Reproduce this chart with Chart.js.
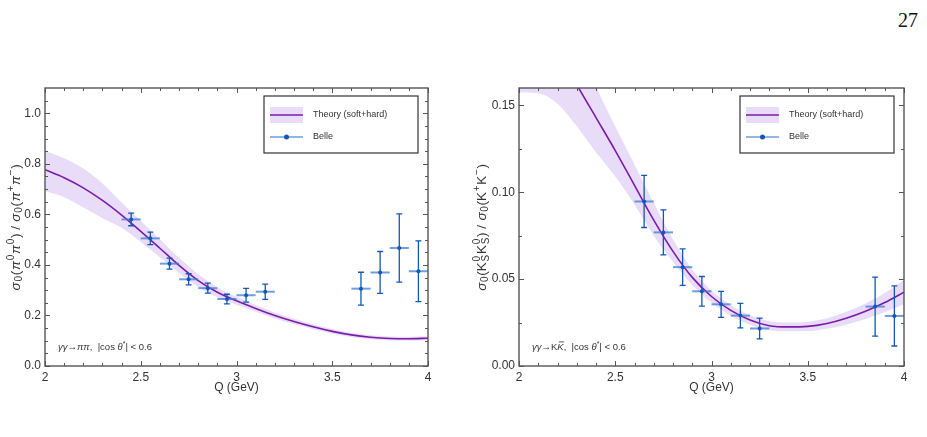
<!DOCTYPE html>
<html>
<head>
<meta charset="utf-8">
<script src="https://cdn.jsdelivr.net/npm/chart.js@4.4.0/dist/chart.umd.min.js"></script>
<style>
    body { margin: 0; background: #fff; width: 927px; height: 437px; position: relative; overflow: hidden; }
    canvas { position: absolute; top: 0; }
    #pipiChart { left: 0; }
    #kkChart { left: 463px; }
    .page-no { position: absolute; right: 9px; top: 9px; font: 20px 'Liberation Serif', 'DejaVu Serif', serif; color: #111; }
</style>
</head>
<body>
<div class="page-no">27</div>
<canvas id="pipiChart" width="463" height="437"></canvas>
<canvas id="kkChart" width="464" height="437"></canvas>
<script>
// ============================================
// DATA
// ============================================

const qGrid = [2.0, 2.1, 2.2, 2.3, 2.4, 2.5, 2.6, 2.7, 2.8, 2.9, 3.0, 3.1, 3.2, 3.3, 3.4, 3.5, 3.6, 3.7, 3.8, 3.9, 4.0];

// pi0 pi0 / pi+ pi-
const pipiTheory = [0.777, 0.745, 0.705, 0.655, 0.597, 0.533, 0.466, 0.398, 0.338, 0.292, 0.258, 0.228, 0.200, 0.176, 0.155, 0.137, 0.123, 0.114, 0.109, 0.108, 0.110];
const pipiUpper  = [0.851, 0.822, 0.781, 0.722, 0.647, 0.575, 0.502, 0.428, 0.363, 0.312, 0.274, 0.241, 0.212, 0.187, 0.165, 0.146, 0.131, 0.122, 0.117, 0.116, 0.118];
const pipiLower  = [0.692, 0.668, 0.628, 0.585, 0.547, 0.491, 0.430, 0.368, 0.313, 0.272, 0.242, 0.215, 0.188, 0.165, 0.145, 0.128, 0.115, 0.106, 0.101, 0.100, 0.102];
const pipiQ      = [2.45, 2.55, 2.65, 2.75, 2.85, 2.95, 3.05, 3.15, 3.65, 3.75, 3.85, 3.95];
const pipiBelle  = [0.580, 0.505, 0.405, 0.343, 0.308, 0.265, 0.280, 0.294, 0.306, 0.370, 0.467, 0.375];
const pipiErr    = [0.025, 0.025, 0.022, 0.022, 0.020, 0.019, 0.027, 0.030, 0.065, 0.083, 0.135, 0.120];

// KS KS / K+ K-
const kkTheory = [0.225, 0.204, 0.183, 0.162, 0.143, 0.124, 0.104, 0.084, 0.066, 0.051, 0.040, 0.032, 0.0265, 0.0232, 0.0225, 0.0228, 0.0245, 0.0275, 0.0315, 0.0365, 0.0425];
const kkUpper  = [0.270, 0.245, 0.220, 0.190, 0.161, 0.138, 0.116, 0.094, 0.073, 0.0555, 0.0435, 0.035, 0.0293, 0.0258, 0.025, 0.0255, 0.0275, 0.0312, 0.036, 0.042, 0.0495];
const kkLower  = [0.1575, 0.157, 0.151, 0.138, 0.123, 0.109, 0.093, 0.075, 0.060, 0.0465, 0.0365, 0.029, 0.0237, 0.0206, 0.020, 0.0201, 0.0215, 0.0238, 0.027, 0.031, 0.0355];
const kkQ      = [2.65, 2.75, 2.85, 2.95, 3.05, 3.15, 3.25, 3.85, 3.95];
const kkBelle  = [0.0947, 0.0769, 0.0569, 0.0430, 0.0355, 0.0290, 0.0216, 0.0342, 0.0288];
const kkErr    = [0.015, 0.013, 0.0105, 0.0085, 0.0075, 0.007, 0.006, 0.017, 0.0173];

const binHalf = 0.05;

// ticks
const xMajor = [2, 2.5, 3, 3.5, 4];
const xMinor = [2.1, 2.2, 2.3, 2.4, 2.6, 2.7, 2.8, 2.9, 3.1, 3.2, 3.3, 3.4, 3.6, 3.7, 3.8, 3.9];
const pipiYMajor = [0, 0.2, 0.4, 0.6, 0.8, 1.0];
const pipiYMinor = [0.05, 0.1, 0.15, 0.25, 0.3, 0.35, 0.45, 0.5, 0.55, 0.65, 0.7, 0.75, 0.85, 0.9, 0.95, 1.05];
const kkYMajor = [0, 0.05, 0.10, 0.15];
const kkYMinor = [0.025, 0.075, 0.125];

// ============================================
// STYLE
// ============================================

const PURPLE = 'rgb(122, 28, 168)';
const BAND = 'rgb(232, 220, 248)';
const BLUE = '#1456b8';
const BLUE_LIGHT = 'rgba(60, 125, 210, 0.75)';
const FRAME = '#555';
const TEXT = '#333';
const FAM = "'Liberation Sans', Arial, sans-serif";

// rich text: [text, style] -> n normal, i italic, p sup, b sub, o italic+overline, s stacked (sup, sub)
function fontFor(st, size) {
    if (st === 'i' || st === 'o') return `italic ${size}px ${FAM}`;
    if (st === 'p' || st === 'b' || st === 's') return `${Math.round(size * 0.72)}px ${FAM}`;
    return `${size}px ${FAM}`;
}

function partWidth(ctx, p, size, gap) {
    ctx.font = fontFor(p[1], size);
    let w = ctx.measureText(p[0]).width;
    if (p[1] === 's') w = Math.max(w, ctx.measureText(p[2]).width);
    return w + (gap || 0);
}

function richWidth(ctx, parts, size, gap) {
    return parts.reduce((s, p) => s + partWidth(ctx, p, size, gap), 0);
}

function drawRich(ctx, parts, x, y, size, gap) {
    ctx.textBaseline = 'alphabetic';
    ctx.textAlign = 'left';
    let cx = x;
    parts.forEach(p => {
        const w = partWidth(ctx, p, size, gap);
        ctx.font = fontFor(p[1], size);
        if (p[1] === 'p') ctx.fillText(p[0], cx, y - size * 0.42);
        else if (p[1] === 'b') ctx.fillText(p[0], cx, y + size * 0.22);
        else if (p[1] === 's') {
            ctx.fillText(p[0], cx, y - size * 0.42);
            ctx.fillText(p[2], cx, y + size * 0.25);
        } else {
            ctx.fillText(p[0], cx, y);
            if (p[1] === 'o') {
                ctx.save();
                ctx.strokeStyle = ctx.fillStyle;
                ctx.lineWidth = 0.8;
                ctx.beginPath();
                ctx.moveTo(cx + 1.5, y - size * 0.85);
                ctx.lineTo(cx + w - (gap || 0) + 0.5, y - size * 0.85);
                ctx.stroke();
                ctx.restore();
            }
        }
        cx += w;
    });
}

function drawErrorBars(chart, o) {
    const { ctx, chartArea: a, scales: { x, y } } = chart;
    ctx.save();
    ctx.beginPath();
    ctx.rect(a.left, a.top, a.width, a.height);
    ctx.clip();
    o.q.forEach((q, i) => {
        const px = x.getPixelForValue(q);
        const py = y.getPixelForValue(o.v[i]);
        const yt = y.getPixelForValue(o.v[i] + o.e[i]);
        const yb = y.getPixelForValue(o.v[i] - o.e[i]);
        ctx.strokeStyle = BLUE_LIGHT;
        ctx.lineWidth = 2;
        ctx.beginPath();
        ctx.moveTo(x.getPixelForValue(q - binHalf), py);
        ctx.lineTo(x.getPixelForValue(q + binHalf), py);
        ctx.stroke();
        ctx.strokeStyle = BLUE;
        ctx.lineWidth = 1.3;
        ctx.beginPath();
        ctx.moveTo(px, yt); ctx.lineTo(px, yb);
        ctx.moveTo(px - 3, yt); ctx.lineTo(px + 3, yt);
        ctx.moveTo(px - 3, yb); ctx.lineTo(px + 3, yb);
        ctx.stroke();
    });
    ctx.restore();
}

function drawFrame(chart, o) {
    const { ctx, chartArea: a, scales: { x, y } } = chart;
    ctx.save();
    ctx.strokeStyle = FRAME;
    ctx.lineWidth = 1;
    ctx.beginPath();
    const xt = (vals, len) => vals.forEach(v => {
        const p = Math.round(x.getPixelForValue(v)) + 0.5;
        ctx.moveTo(p, a.bottom); ctx.lineTo(p, a.bottom - len);
        ctx.moveTo(p, a.top); ctx.lineTo(p, a.top + len);
    });
    const yt = (vals, len) => vals.forEach(v => {
        const p = Math.round(y.getPixelForValue(v)) + 0.5;
        ctx.moveTo(a.left, p); ctx.lineTo(a.left + len, p);
        ctx.moveTo(a.right, p); ctx.lineTo(a.right - len, p);
    });
    xt(xMajor, 5); xt(xMinor, 3);
    yt(o.yMajor, 5); yt(o.yMinor, 3);
    ctx.stroke();
    ctx.lineWidth = 1.4;
    ctx.strokeRect(a.left, a.top, a.width, a.height);
    ctx.restore();
}

function drawLegend(chart) {
    const { ctx, chartArea: a } = chart;
    const bx = a.right - 164, by = a.top + 8, bw = 154, bh = 57;
    ctx.save();
    ctx.fillStyle = '#fff';
    ctx.fillRect(bx, by, bw, bh);
    ctx.strokeStyle = '#333';
    ctx.lineWidth = 1.2;
    ctx.strokeRect(bx, by, bw, bh);
    // theory swatch
    ctx.fillStyle = BAND;
    ctx.fillRect(bx + 6, by + 11, 33, 16);
    ctx.strokeStyle = PURPLE;
    ctx.lineWidth = 1.6;
    ctx.beginPath(); ctx.moveTo(bx + 6, by + 19); ctx.lineTo(bx + 39, by + 19); ctx.stroke();
    // belle swatch
    ctx.strokeStyle = BLUE_LIGHT;
    ctx.lineWidth = 1.5;
    ctx.beginPath(); ctx.moveTo(bx + 6, by + 41); ctx.lineTo(bx + 39, by + 41); ctx.stroke();
    ctx.fillStyle = BLUE;
    ctx.beginPath(); ctx.arc(bx + 22.5, by + 41, 2.5, 0, Math.PI * 2); ctx.fill();
    ctx.fillStyle = TEXT;
    ctx.font = `9px ${FAM}`;
    ctx.textBaseline = 'middle';
    ctx.fillText('Theory (soft+hard)', bx + 49, by + 19);
    ctx.fillText('Belle', bx + 49, by + 41);
    ctx.restore();
}

const decoPlugin = {
    id: 'deco',
    beforeDatasetDraw(chart, args, o) {
        if (args.index === 3) drawErrorBars(chart, o);
    },
    afterDraw(chart, args, o) {
        const { ctx, chartArea: a } = chart;
        drawFrame(chart, o);
        drawLegend(chart);
        ctx.save();
        ctx.fillStyle = TEXT;
        // y title
        const w = richWidth(ctx, o.yTitle, 13.5, 0.7);
        ctx.translate(o.yTitleX, (a.top + a.bottom) / 2);
        ctx.rotate(-Math.PI / 2);
        drawRich(ctx, o.yTitle, -w / 2, 4.5, 13.5, 0.7);
        ctx.restore();
        ctx.save();
        ctx.fillStyle = TEXT;
        ctx.font = `12px ${FAM}`;
        ctx.textAlign = 'center';
        ctx.textBaseline = 'middle';
        ctx.fillText('Q (GeV)', (a.left + a.right) / 2, 388);
        drawRich(ctx, o.note, a.left + 13, a.bottom - 16, 9.5);
        ctx.restore();
    }
};

function pts(xs, ys) {
    return xs.map((q, i) => ({ x: q, y: ys[i] }));
}

function makeChart(id, c) {
    return new Chart(document.getElementById(id), {
        type: 'line',
        data: {
            datasets: [
                { data: pts(qGrid, c.upper), borderWidth: 0, pointRadius: 0, fill: '+1', backgroundColor: BAND, cubicInterpolationMode: 'monotone', order: 3 },
                { data: pts(qGrid, c.lower), borderWidth: 0, pointRadius: 0, fill: false, cubicInterpolationMode: 'monotone', order: 2 },
                { data: pts(qGrid, c.theory), borderColor: PURPLE, borderWidth: 1.6, pointRadius: 0, fill: false, cubicInterpolationMode: 'monotone', clip: 0, order: 1 },
                { type: 'scatter', data: pts(c.q, c.v), pointRadius: 2, backgroundColor: BLUE, borderWidth: 0, order: 0 }
            ]
        },
        options: {
            responsive: false,
            animation: false,
            events: [],
            layout: { padding: { left: 0, right: c.padRight, top: 88, bottom: 0 } },
            plugins: {
                legend: { display: false },
                tooltip: { enabled: false },
                deco: { q: c.q, v: c.v, e: c.e, yMajor: c.yMajor, yMinor: c.yMinor, yTitle: c.yTitle, yTitleX: c.yTitleX, note: c.note }
            },
            scales: {
                x: {
                    type: 'linear', min: 2, max: 4,
                    grid: { display: false, drawTicks: false },
                    border: { display: false },
                    afterBuildTicks: s => { s.ticks = xMajor.map(v => ({ value: v })); },
                    afterFit: s => { s.height = 71; },
                    ticks: { autoSkip: false, maxRotation: 0, padding: 4, color: TEXT, font: { family: FAM, size: 12 }, callback: v => String(v) }
                },
                y: {
                    type: 'linear', min: 0, max: c.yMax,
                    grid: { display: false, drawTicks: false },
                    border: { display: false },
                    afterBuildTicks: s => { s.ticks = c.yMajor.map(v => ({ value: v })); },
                    afterFit: s => { s.width = c.yWidth; },
                    ticks: { autoSkip: false, padding: 4, color: TEXT, font: { family: FAM, size: 12 }, callback: v => v.toFixed(c.digits) }
                }
            }
        },
        plugins: [decoPlugin]
    });
}

makeChart('pipiChart', {
    theory: pipiTheory, upper: pipiUpper, lower: pipiLower,
    q: pipiQ, v: pipiBelle, e: pipiErr,
    yMax: 1.1, yMajor: pipiYMajor, yMinor: pipiYMinor, digits: 1,
    yWidth: 45, padRight: 35, yTitleX: 15,
    yTitle: [['σ', 'i'], ['0', 'b'], ['(', 'n'], ['π', 'i'], ['0', 'p'], ['π', 'i'], ['0', 'p'], [') / ', 'n'], ['σ', 'i'], ['0', 'b'], ['(', 'n'], ['π', 'i'], ['+', 'p'], ['π', 'i'], ['−', 'p'], [')', 'n']],
    note: [['γγ', 'i'], ['→', 'n'], ['ππ', 'i'], [',  |cos ', 'n'], ['θ', 'i'], ['*', 'p'], ['| < 0.6', 'n']]
});

makeChart('kkChart', {
    theory: kkTheory, upper: kkUpper, lower: kkLower,
    q: kkQ, v: kkBelle, e: kkErr,
    yMax: 0.16, yMajor: kkYMajor, yMinor: kkYMinor, digits: 2,
    yWidth: 56, padRight: 23, yTitleX: 18,
    yTitle: [['σ', 'i'], ['0', 'b'], ['(K', 'n'], ['0', 's', 'S'], ['K', 'n'], ['0', 's', 'S'], [') / ', 'n'], ['σ', 'i'], ['0', 'b'], ['(K', 'n'], ['+', 'p'], ['K', 'n'], ['−', 'p'], [')', 'n']],
    note: [['γγ', 'i'], ['→', 'n'], ['K', 'n'], ['K', 'o'], [',  |cos ', 'n'], ['θ', 'i'], ['*', 'p'], ['| < 0.6', 'n']]
});
</script>
</body>
</html>
